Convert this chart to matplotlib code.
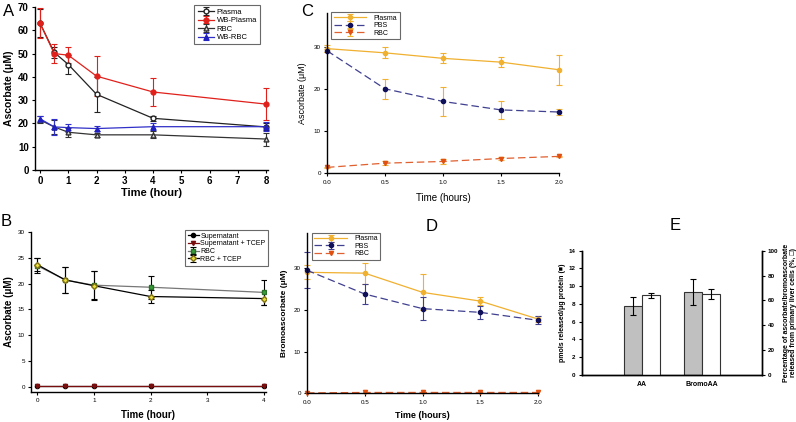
import numpy as np
import matplotlib
matplotlib.use('Agg')
import matplotlib.pyplot as plt

plt.rcParams['font.family'] = ['Liberation Sans', 'DejaVu Sans']
plt.rcParams['axes.linewidth'] = 1.0

W, H = 796, 422

# Panel A data
timeA = [0, 0.5, 1, 2, 4, 8]
plasmaA = [63, 50.5, 45.3, 32.5, 22.2, 18.5]
plasmaAErr = [6, 2.5, 4, 7.5, 1.2, 1.5]
wbPlasmaA = [63, 50, 49.3, 40.3, 33.5, 28.3]
wbPlasmaAErr = [6.5, 4, 3.4, 8.7, 6.2, 7]
rbcA = [21.5, 18.5, 16.2, 15.1, 15.1, 13.3]
rbcAErr = [1.5, 3, 2, 0.8, 1.5, 2.8]
wbRbcA = [22, 18.5, 18.2, 17.8, 18.6, 18.6]
wbRbcAErr = [1.3, 3.5, 1.7, 1.2, 1.5, 1.8]

# Panel B data
timeB = [0, 0.5, 1, 2, 4]
superB = [0.2, 0.2, 0.2, 0.2, 0.2]
superTcepB = [0.2, 0.2, 0.2, 0.2, 0.2]
rbcB = [23.5, 20.7, 19.7, 19.3, 18.3]
rbcBErr = [1.5, 2.5, 2.7, 2.2, 2.4]
rbcTcepB = [23.7, 20.7, 19.6, 17.5, 17.1]
rbcTcepBErr = [1.3, 2.5, 2.8, 1.3, 1.2]

# Panel C data
timeC = [0, 0.5, 1.0, 1.5, 2.0]
plasmaC = [29.5, 28.5, 27.2, 26.3, 24.5]
plasmaCErr = [0.8, 1.3, 1.2, 1.2, 3.5]
pbsC = [29.0, 20.0, 17.0, 15.0, 14.5]
pbsCErr = [0.3, 2.4, 3.5, 2.1, 0.6]
rbcC = [1.4, 2.4, 2.8, 3.5, 4.0]
rbcCErr = [0.2, 0.5, 0.5, 0.3, 0.2]

# Panel D data
plasmaD = [29.0, 28.8, 24.2, 22.1, 17.8]
plasmaDErr = [1.7, 2.5, 4.3, 1.0, 0.7]
pbsD = [29.5, 23.8, 20.3, 19.4, 17.5]
pbsDErr = [4.3, 2.4, 2.7, 1.5, 1.0]
rbcD = [0.1, 0.2, 0.2, 0.2, 0.2]

# Panel E data
groupsE = ['AA', 'BromoAA']
pmolsE = [7.8, 9.35]
pmolsEErr = [1.0, 1.45]
percentE = [64.0, 65.0]
percentEErr = [1.7, 4.0]


def axRect(left, top, right, bottom):
    return [left / W, 1 - bottom / H, (right - left) / W, (bottom - top) / H]


def styleAx(ax, tickSize, bold=False):
    ax.spines['top'].set_visible(False)
    ax.spines['right'].set_visible(False)
    ax.tick_params(labelsize=tickSize, length=2.5, width=0.8, pad=2)
    if bold:
        for lab in ax.get_xticklabels() + ax.get_yticklabels():
            lab.set_fontweight('bold')


fig = plt.figure(figsize=(W / 100, H / 100), dpi=100)

# ---- A ----
axA = fig.add_axes(axRect(35, 7, 268, 170))
eb = dict(capsize=2.5, elinewidth=0.8, capthick=0.8, markersize=3.5, linewidth=0.9, clip_on=False)
axA.errorbar(timeA, plasmaA, yerr=plasmaAErr, color='#222222', marker='o', mfc='white',
             mec='#222222', label='Plasma', **eb)
axA.errorbar(timeA, wbPlasmaA, yerr=wbPlasmaAErr, color='#e0201b', marker='o', mfc='#e0201b',
             mec='#e0201b', label='WB-Plasma', **eb)
axA.errorbar(timeA, rbcA, yerr=rbcAErr, color='#333333', marker='^', mfc='#dddddd',
             mec='#333333', label='RBC', **eb)
axA.errorbar(timeA, wbRbcA, yerr=wbRbcAErr, color='#3030c8', marker='^', mfc='#2020c0',
             mec='#2020c0', label='WB-RBC', **eb)
axA.set_xlim(-0.18, 8.07)
axA.set_ylim(0, 70)
axA.set_xticks(range(9))
axA.set_yticks(range(0, 71, 10))
styleAx(axA, 7, bold=True)
axA.set_xlabel('Time (hour)', fontsize=8, fontweight='bold', labelpad=1)
axA.set_ylabel('Ascorbate (\u03bcM)', fontsize=7.5, fontweight='bold', labelpad=3)
legA = axA.legend(loc='upper right', bbox_to_anchor=(0.966, 1.01), borderaxespad=0,
                  fontsize=5.5, frameon=True, fancybox=False, edgecolor='#444444',
                  handlelength=2.2, labelspacing=0.15, borderpad=0.4, handletextpad=0.3)
legA.get_frame().set_linewidth(0.8)

# ---- B ----
axB = fig.add_axes(axRect(31, 232, 266, 392))
ebB = dict(capsize=2.5, elinewidth=0.8, capthick=0.8, markersize=3, linewidth=0.9)
axB.errorbar(timeB, superB, color='black', marker='o', mfc='black', mec='black',
             label='Supernatant', **ebB)
axB.errorbar(timeB, superTcepB, color='#7a0e0e', marker='v', mfc='#7a0e0e', mec='#7a0e0e',
             label='Supernatant + TCEP', **ebB)
axB.errorbar(timeB, rbcB, yerr=rbcBErr, color='#777777', marker='s', mfc='#3aa03a',
             mec='#2a702a', ecolor='black', label='RBC', **ebB)
axB.errorbar(timeB, rbcTcepB, yerr=rbcTcepBErr, color='black', marker='D', mfc='#e8e040',
             mec='#807010', ecolor='black', label='RBC + TCEP', **ebB)
axB.set_xlim(-0.106, 4.035)
axB.set_ylim(-1, 30)
axB.set_xticks(range(5))
axB.set_yticks(range(0, 31, 5))
styleAx(axB, 4.5)
axB.set_xlabel('Time (hour)', fontsize=7, fontweight='bold', labelpad=5)
axB.set_ylabel('Ascorbate (\u03bcM)', fontsize=7, fontweight='bold', labelpad=3)
legB = axB.legend(loc='upper right', bbox_to_anchor=(1.01, 1.0125), borderaxespad=0,
                  fontsize=5, frameon=True, fancybox=False, edgecolor='#444444',
                  handlelength=1.6, labelspacing=0.1, borderpad=0.4, handletextpad=0.2)
legB.get_frame().set_linewidth(0.8)

# ---- C ----
axC = fig.add_axes(axRect(327, 12.7, 559, 173.3))
ebC = dict(capsize=2, elinewidth=0.8, capthick=0.8, markersize=3, linewidth=0.9, clip_on=False)
axC.errorbar(timeC, plasmaC, yerr=plasmaCErr, color='#f0b030', marker='o', mfc='#f0b030',
             mec='#f0b030', label='Plasma', **ebC)
axC.errorbar(timeC, pbsC, yerr=pbsCErr, color='#404090', marker='o', mfc='#10105a',
             mec='#10105a', ecolor='#f0b030', linestyle=(0, (6, 3)), label='PBS', **ebC)
axC.errorbar(timeC, rbcC, yerr=rbcCErr, color='#e06030', marker='v', mfc='#e05010',
             mec='#e05010', ecolor='#f0b030', linestyle=(0, (6, 3)), label='RBC', **ebC)
axC.set_xlim(0, 2.0)
axC.set_ylim(0, 38)
axC.set_xticks(timeC)
axC.set_xticklabels(['0.0', '0.5', '1.0', '1.5', '2.0'])
axC.set_yticks([0, 10, 20, 30])
styleAx(axC, 4.5)
axC.set_xlabel('Time (hours)', fontsize=7, labelpad=6)
axC.set_ylabel('Ascorbate (\u03bcM)', fontsize=6.5, labelpad=5)
legC = axC.legend(loc='upper left', bbox_to_anchor=(0.017, 1.004), borderaxespad=0,
                  fontsize=5, frameon=True, fancybox=False, edgecolor='#444444',
                  handlelength=4.7, labelspacing=0.05, borderpad=0.4, handletextpad=1.0)
legC.get_frame().set_linewidth(0.8)

# ---- D ----
axD = fig.add_axes(axRect(307, 232.7, 538, 393.3))
axD.errorbar(timeC, plasmaD, yerr=plasmaDErr, color='#f0b030', marker='o', mfc='#f0b030',
             mec='#f0b030', label='Plasma', **ebC)
axD.errorbar(timeC, pbsD, yerr=pbsDErr, color='#404090', marker='o', mfc='#10105a',
             mec='#10105a', ecolor='#404090', linestyle=(0, (6, 3)), label='PBS', **ebC)
axD.errorbar(timeC, rbcD, color='#e06030', marker='v', mfc='#e05010', mec='#e05010',
             linestyle=(0, (6, 3)), label='RBC', **ebC)
axD.set_xlim(0, 2.0)
axD.set_ylim(0, 38.5)
axD.set_xticks(timeC)
axD.set_xticklabels(['0.0', '0.5', '1.0', '1.5', '2.0'])
axD.set_yticks([0, 10, 20, 30])
styleAx(axD, 4.5)
axD.set_xlabel('Time (hours)', fontsize=6.5, fontweight='bold', labelpad=5)
axD.set_ylabel('Bromoascorbate (\u03bcM)', fontsize=6, fontweight='bold', labelpad=4)
legD = axD.legend(loc='upper left', bbox_to_anchor=(0.02, 1.0), borderaxespad=0,
                  fontsize=5, frameon=True, fancybox=False, edgecolor='#444444',
                  handlelength=4.7, labelspacing=0.05, borderpad=0.4, handletextpad=1.0)
legD.get_frame().set_linewidth(0.8)

# ---- E ----
axE = fig.add_axes(axRect(581.7, 250.7, 761.7, 375))
xE = np.arange(1, len(groupsE) + 1)
barW = 0.3
axE.bar(xE - barW / 2, pmolsE, barW, yerr=pmolsEErr, color='#c0c0c0', edgecolor='#333333',
        linewidth=0.8, error_kw=dict(elinewidth=0.8, capsize=2, capthick=0.8))
axE2 = axE.twinx()
axE2.bar(xE + barW / 2, percentE, barW, yerr=percentEErr, color='white', edgecolor='#333333',
         linewidth=0.8, error_kw=dict(elinewidth=0.8, capsize=2, capthick=0.8))
axE.set_xlim(0, 3)
axE.set_ylim(0, 14)
axE2.set_ylim(0, 100)
axE.set_yticks(range(0, 15, 2))
axE2.set_yticks(range(0, 101, 20))
axE.set_xticks(xE)
axE.set_xticklabels(groupsE)
axE.spines['top'].set_visible(False)
axE2.spines['top'].set_visible(False)
axE.tick_params(axis='x', length=0, labelsize=5, pad=4)
axE.tick_params(axis='y', labelsize=4.5, length=2.5, width=0.8, pad=2)
axE2.tick_params(axis='y', labelsize=4.5, length=2.5, width=0.8, pad=2)
for lab in axE.get_xticklabels() + axE.get_yticklabels() + axE2.get_yticklabels():
    lab.set_fontweight('bold')
axE.set_ylabel('pmols released/\u03bcg protein (\u25a0)', fontsize=5, fontweight='bold', labelpad=2)
axE2.set_ylabel('Percentage of ascorbate/bromoascorbate\nreleased from primary liver cells (%, \u25a1)',
                fontsize=5, fontweight='bold', rotation=90, labelpad=3, linespacing=1.0)

# panel letters
fig.text(9 / W, 1 - 12 / H, 'A', fontsize=12, ha='center', va='center')
fig.text(6 / W, 1 - 222 / H, 'B', fontsize=12, ha='center', va='center')
fig.text(307 / W, 1 - 12 / H, 'C', fontsize=12, ha='center', va='center')
fig.text(432 / W, 1 - 227 / H, 'D', fontsize=12, ha='center', va='center')
fig.text(675 / W, 1 - 225 / H, 'E', fontsize=12, ha='center', va='center')

fig.savefig('out.png', dpi=100)
